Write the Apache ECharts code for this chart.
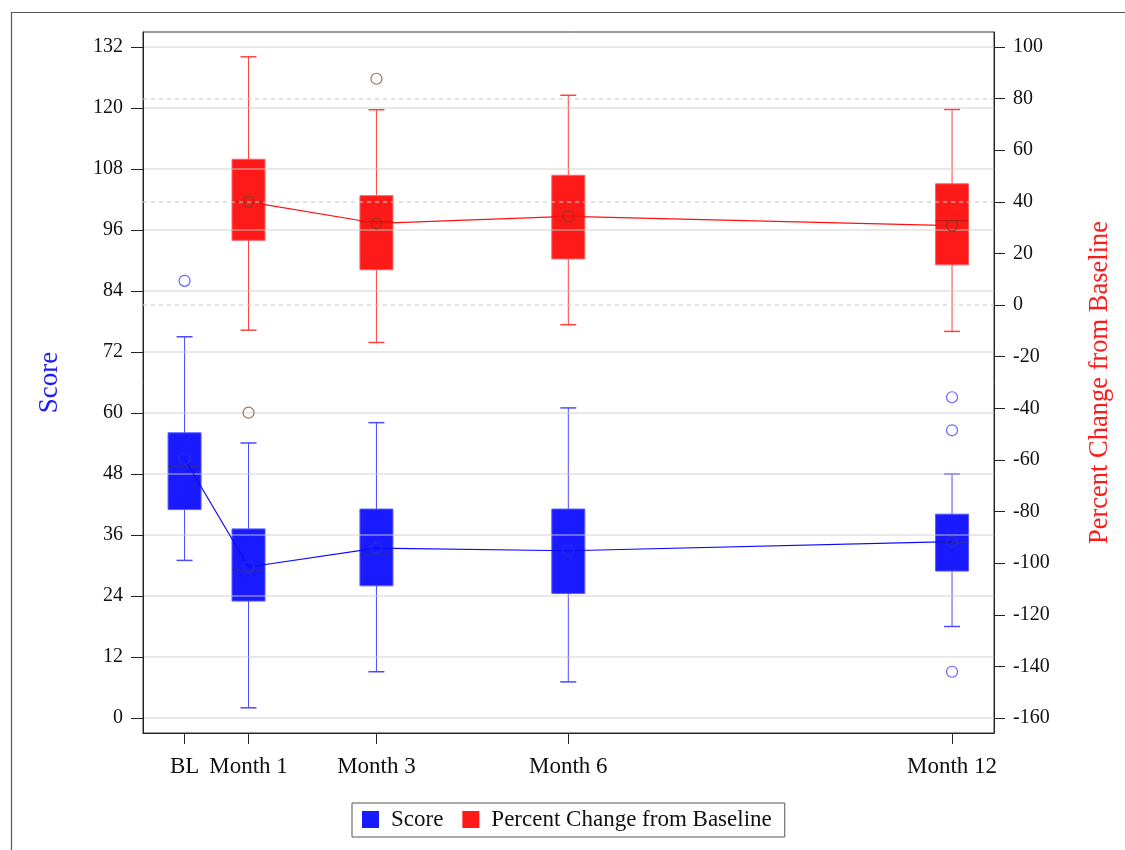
<!DOCTYPE html>
<html>
<head>
<meta charset="utf-8">
<script src="https://cdn.jsdelivr.net/npm/echarts@6/dist/echarts.min.js"></script>
<style>
  html, body { margin: 0; padding: 0; background: #fff; }
  #main { width: 1125px; height: 850px; }
</style>
</head>
<body>
<div id="main"></div>
<script>
// visit month for each time point (BL = 0)
const xTickValues = [0, 1, 3, 6, 12]
const xTickLabels = ['BL', 'Month 1', 'Month 3', 'Month 6', 'Month 12']
const scoreTicks = [0, 12, 24, 36, 48, 60, 72, 84, 96, 108, 120, 132]
const pctTicks = [-160, -140, -120, -100, -80, -60, -40, -20, 0, 20, 40, 60, 80, 100]
const pctRefLines = [80, 40, 0]

// box rows: [month, low whisker, Q1, median, Q3, high whisker]
const scoreBoxes = [
  [0, 31.0, 41.0, 49.5, 56.1, 75.0],
  [1, 2.0, 23.0, 29.1, 37.2, 54.1],
  [3, 9.1, 26.0, 32.1, 41.1, 58.1],
  [6, 7.1, 24.5, 33.0, 41.1, 61.0],
  [12, 18.0, 28.9, 34.5, 40.1, 48.0]
]
const scoreMeans = [[0, 51.0], [1, 29.7], [3, 33.4], [6, 32.9], [12, 34.7]]
const scoreOutliers = [[0, 86.0], [12, 63.1], [12, 56.6], [12, 9.1]]

const pctBoxes = [
  [1, -9.7, 25.1, 40.0, 56.5, 96.2],
  [3, -14.5, 13.7, 32.3, 42.4, 75.7],
  [6, -7.6, 17.9, 34.4, 50.3, 81.3],
  [12, -10.2, 15.6, 32.7, 47.0, 75.8]
]
const pctMeans = [[1, 40.0], [3, 31.7], [6, 34.4], [12, 30.8]]
const pctOutliers = [[1, -41.7], [3, 87.7]]

const FONT = 'Liberation Serif'

function boxRenderer(fill, edge, whisker, medianColor) {
  return function(params, api) {
    const x = api.value(0)
    const low = api.coord([x, api.value(1)])
    const q1 = api.coord([x, api.value(2)])
    const med = api.coord([x, api.value(3)])
    const q3 = api.coord([x, api.value(4)])
    const high = api.coord([x, api.value(5)])
    const cx = low[0]
    const half = 16.5
    const cap = 8
    return {
      type: 'group',
      children: [
        { type: 'line', shape: { x1: cx, y1: low[1], x2: cx, y2: q1[1] }, style: { stroke: whisker, lineWidth: 1 } },
        { type: 'line', shape: { x1: cx, y1: q3[1], x2: cx, y2: high[1] }, style: { stroke: whisker, lineWidth: 1 } },
        { type: 'line', shape: { x1: cx - cap, y1: low[1], x2: cx + cap, y2: low[1] }, style: { stroke: whisker, lineWidth: 1.5 } },
        { type: 'line', shape: { x1: cx - cap, y1: high[1], x2: cx + cap, y2: high[1] }, style: { stroke: whisker, lineWidth: 1.5 } },
        { type: 'rect', shape: { x: cx - half, y: q3[1], width: half * 2, height: q1[1] - q3[1] }, style: { fill: fill, stroke: edge, lineWidth: 1 } },
        { type: 'line', shape: { x1: cx - half, y1: med[1], x2: cx + half, y2: med[1] }, style: { stroke: medianColor, lineWidth: 1 } }
      ]
    }
  }
}

const chart = echarts.init(document.getElementById('main'), null, { renderer: 'canvas' })

chart.setOption({
  backgroundColor: '#fff',
  animation: false,
  textStyle: { fontFamily: FONT },
  graphic: [{
    type: 'rect',
    left: 9,
    top: 10,
    shape: { width: 1200, height: 900 },
    style: { fill: 'none', stroke: '#555', lineWidth: 1.2 },
    silent: true
  }],
  grid: {
    left: 143,
    right: 131,
    top: 32,
    bottom: 117,
    show: true,
    borderColor: '#333',
    borderWidth: 1
  },
  legend: {
    left: 352,
    top: 803,
    orient: 'horizontal',
    padding: [5, 13, 6, 10],
    itemGap: 19,
    itemWidth: 17,
    itemHeight: 17,
    borderColor: '#555',
    borderWidth: 1,
    textStyle: { fontFamily: FONT, fontSize: 23, color: '#111', padding: [0, 0, 0, 7] },
    data: [
      { name: 'Score', icon: 'rect', itemStyle: { color: '#1a1aff' } },
      { name: 'Percent Change from Baseline', icon: 'rect', itemStyle: { color: '#ff1a1a' } }
    ],
    selectedMode: false
  },
  xAxis: {
    type: 'value',
    min: -0.65,
    max: 12.656,
    axisLine: { show: true, onZero: false, lineStyle: { color: '#222' } },
    axisTick: { show: true, length: 11, customValues: xTickValues, lineStyle: { color: '#222' } },
    axisLabel: {
      customValues: xTickValues,
      margin: 22,
      fontFamily: FONT,
      fontSize: 23,
      color: '#111',
      formatter: function(v) {
        const i = xTickValues.indexOf(v)
        return i >= 0 ? xTickLabels[i] : ''
      }
    },
    splitLine: { show: false }
  },
  yAxis: [{
    type: 'value',
    position: 'left',
    min: -2.953,
    max: 134.95,
    z: 4,
    name: 'Score',
    nameLocation: 'middle',
    nameRotate: 90,
    nameGap: 80,
    nameTextStyle: { fontFamily: FONT, fontSize: 27, color: '#1a1aff' },
    axisLine: { show: true, onZero: false, lineStyle: { color: '#222' } },
    axisTick: { show: true, length: 12, customValues: scoreTicks, lineStyle: { color: '#222' } },
    axisLabel: { customValues: scoreTicks, margin: 20, fontFamily: FONT, fontSize: 20, color: '#111' },
    splitLine: { show: true, lineStyle: { color: 'rgba(205,205,205,0.6)', width: 1.5 } }
  }, {
    type: 'value',
    position: 'right',
    min: -165.82,
    max: 105.82,
    name: 'Percent Change from Baseline',
    nameLocation: 'middle',
    nameRotate: 90,
    nameGap: 93,
    nameTextStyle: { fontFamily: FONT, fontSize: 26.5, color: '#ff1a1a' },
    axisLine: { show: true, onZero: false, lineStyle: { color: '#222' } },
    axisTick: { show: true, length: 11, customValues: pctTicks, lineStyle: { color: '#222' } },
    axisLabel: { customValues: pctTicks, margin: 19, fontFamily: FONT, fontSize: 20, color: '#111' },
    splitLine: { show: false }
  }],
  series: [{
    name: 'Score',
    type: 'custom',
    xAxisIndex: 0,
    yAxisIndex: 0,
    z: 2,
    itemStyle: { color: '#1a1aff' },
    renderItem: boxRenderer('#1a1aff', '#5a5aff', '#4a4aff', '#2a2ab0'),
    encode: { x: 0, y: [1, 2, 3, 4, 5] },
    data: scoreBoxes
  }, {
    name: 'Percent Change from Baseline',
    type: 'custom',
    xAxisIndex: 0,
    yAxisIndex: 1,
    z: 2,
    itemStyle: { color: '#ff1a1a' },
    renderItem: boxRenderer('#ff1a1a', '#ff6060', '#ff4040', '#b01818'),
    encode: { x: 0, y: [1, 2, 3, 4, 5] },
    data: pctBoxes,
    markLine: {
      silent: true,
      symbol: 'none',
      z: 6,
      label: { show: false },
      lineStyle: { color: 'rgba(200,200,200,0.75)', type: [4, 4], width: 1.5 },
      data: pctRefLines.map(function(v) { return { yAxis: v } })
    }
  }, {
    name: 'Score mean',
    type: 'line',
    yAxisIndex: 0,
    z: 5,
    symbol: 'circle',
    symbolSize: 11,
    itemStyle: { color: 'transparent', borderColor: '#3434c0', borderWidth: 1 },
    lineStyle: { color: '#0a0aff', width: 1.2 },
    data: scoreMeans
  }, {
    name: 'Percent mean',
    type: 'line',
    yAxisIndex: 1,
    z: 5,
    symbol: 'circle',
    symbolSize: 11,
    itemStyle: { color: 'transparent', borderColor: '#8b3a1a', borderWidth: 1.2 },
    lineStyle: { color: '#ff1010', width: 1.2 },
    data: pctMeans
  }, {
    name: 'Score outliers',
    type: 'scatter',
    yAxisIndex: 0,
    z: 5,
    symbol: 'circle',
    symbolSize: 11,
    itemStyle: { color: 'transparent', borderColor: '#3a3aff', borderWidth: 1.2 },
    data: scoreOutliers
  }, {
    name: 'Percent outliers',
    type: 'scatter',
    yAxisIndex: 1,
    z: 5,
    symbol: 'circle',
    symbolSize: 11,
    itemStyle: { color: 'transparent', borderColor: '#8b4a2a', borderWidth: 1.2 },
    data: pctOutliers
  }]
})
</script>
</body>
</html>
